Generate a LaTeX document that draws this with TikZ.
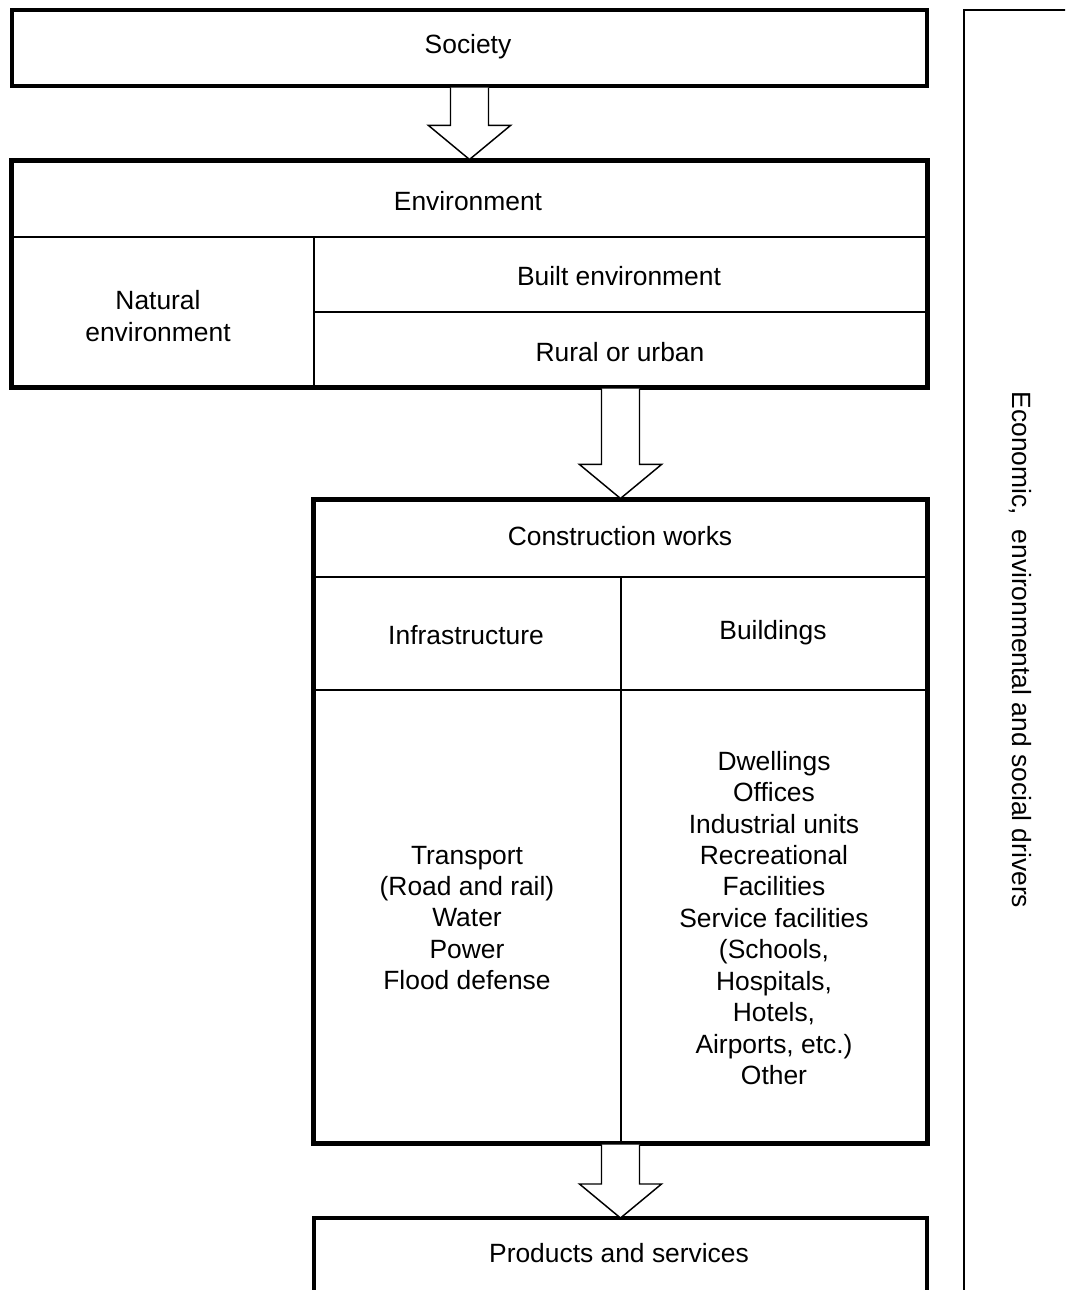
\documentclass[tikz,border=0pt]{standalone}
\usepackage{fontspec}
\setmainfont{Liberation Sans}
\usetikzlibrary{calc}
\tikzset{
  thickbox/.style={draw, line width=2.3pt, inner sep=0pt, fill=white},
  divider/.style={line width=1.1pt},
  arrowline/.style={draw, fill=white, line width=1.1pt, line join=miter},
  lbl/.style={font=\fontsize{19.8}{23.6}\selectfont, align=center, inner sep=0pt},
  bracket/.style={line width=1.1pt},
}
\newcommand\blockarr[2]{%
  \draw[arrowline] ($(#1)+(-19,0)$) -- ($(#2)+(-19,-34)$) -- ($(#2)+(-41,-34)$) -- (#2)
    -- ($(#2)+(41,-34)$) -- ($(#2)+(19,-34)$) -- ($(#1)+(19,0)$);}
\begin{document}
\begin{tikzpicture}[x=0.75pt,y=-0.75pt]
\useasboundingbox (0,0) rectangle (1065,1290);
\clip (0,0) rectangle (1065,1290);
% boxes
\node[thickbox, minimum width=686.25pt, minimum height=57pt] (soc) at (469.5,48) {};
\node[thickbox, minimum width=686.25pt, minimum height=169.5pt] (env) at (469.5,274) {};
\node[thickbox, minimum width=459.75pt, minimum height=482.25pt] (cw) at (620.5,821.5) {};
% dividers environment
\draw[divider] (12,237) -- (927,237);
\draw[divider] (314,237) -- (314,387);
\draw[divider] (314,312) -- (927,312);
% dividers construction
\draw[divider] (314,577) -- (927,577);
\draw[divider] (314,690) -- (927,690);
\draw[divider] (621,577) -- (621,1143);
% redraw outer borders on top
\draw[line width=2.3pt] (env.north west) rectangle (env.south east);
\draw[line width=2.3pt] (cw.north west) rectangle (cw.south east);
% products box (cut by bottom edge)
\coordinate (prodtop) at (620.5,1218);
\draw[line width=2.3pt] (314,1300) -- (314,1218) -- (927,1218) -- (927,1300);
% arrows
\coordinate (a1s) at (soc.south);
\coordinate (a1e) at (env.north);
\blockarr{a1s}{a1e}
\coordinate (a2s) at (cw.north |- env.south);
\coordinate (a2e) at (cw.north);
\blockarr{a2s}{a2e}
\coordinate (a3s) at (cw.south);
\blockarr{a3s}{prodtop}
% labels
\node[lbl] (tsoc) at (468,47) {Society};
\node[lbl] (tenv) at (468,201) {Environment};
\node[lbl] (tnat) at (158,316) {Natural\\environment};
\node[lbl] (tbuilt) at (619,276) {Built environment};
\node[lbl] (trural) at (620,352) {Rural or urban};
\node[lbl] (tcw) at (620,536) {Construction works};
\node[lbl] (tinf) at (466,635) {Infrastructure};
\node[lbl] (tbld) at (773,633) {Buildings};
\node[lbl] (tinflist) at (467,918) {Transport\\(Road and rail)\\Water\\Power\\Flood defense};
\node[lbl] (tbldlist) at (774,918) {Dwellings\\Offices\\Industrial units\\Recreational\\Facilities\\Service facilities\\(Schools,\\Hospitals,\\Hotels,\\Airports, etc.)\\Other};
\node[lbl] (tprod) at (619,1253) {Products and services};
% right bracket
\draw[bracket] (964,1300) -- (964,10) -- (1070,10);
\node[lbl, rotate=-90] (tdrv) at (1020,650) {Economic,\ \ environmental and social drivers};
\end{tikzpicture}
\end{document}
